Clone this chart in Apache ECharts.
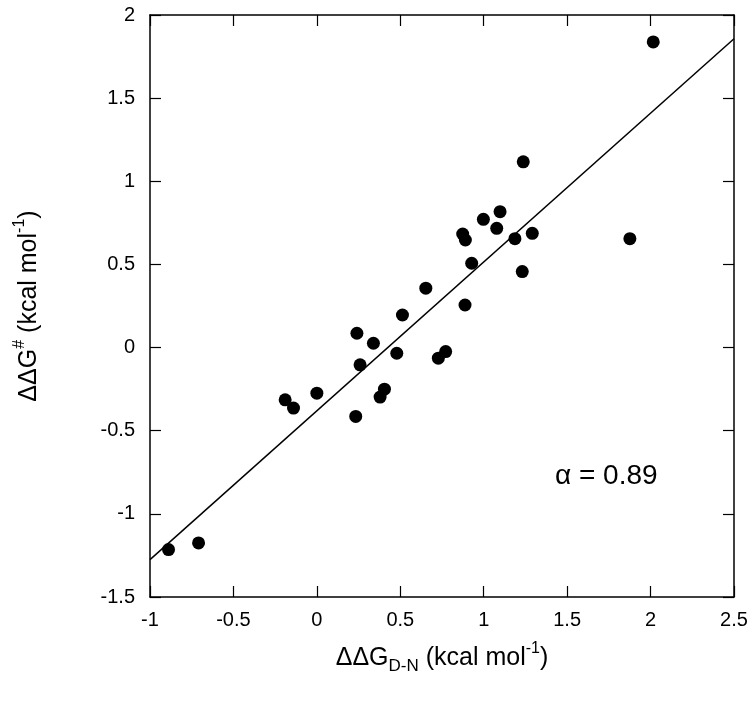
<!DOCTYPE html>
<html>
<head>
<meta charset="utf-8">
<script src="https://cdn.jsdelivr.net/npm/echarts@6/dist/echarts.min.js"></script>
<style>
html,body{margin:0;padding:0;background:#fff;}
#c{width:749px;height:707px;}
</style>
</head>
<body>
<div id="c"></div>
<script>
// Data
var ddgDN = [-0.889, -0.709, -0.190, -0.140, 0.000, 0.233, 0.240, 0.259, 0.339, 0.379, 0.405, 0.479, 0.513, 0.728, 0.772, 0.888,
             2.016, 1.237, 1.098, 0.998, 1.078, 0.874, 0.890, 1.187, 1.291, 1.876, 0.928, 1.231, 0.653];
var ddgTS = [-1.215, -1.175, -0.314, -0.364, -0.274, -0.414, 0.086, -0.104, 0.026, -0.298, -0.250, -0.034, 0.196, -0.064, -0.024, 0.256,
             1.838, 1.117, 0.817, 0.771, 0.717, 0.683, 0.647, 0.655, 0.687, 0.655, 0.507, 0.457, 0.357];
var fitSlope = 0.895;
var fitIntercept = -0.38;
var xRange = [-1, 2.5];
var yRange = [-1.5, 2];
var alphaLabel = 'α = 0.89';

var points = ddgDN.map(function (x, i) { return [x, ddgTS[i]]; });
var fitLine = xRange.map(function (x) { return [x, fitSlope * x + fitIntercept]; });

var FONT = 'Liberation Sans';
var chart = echarts.init(document.getElementById('c'), null, {renderer: 'canvas'});
var axisLineStyle = {color: '#000', width: 1.5};
var richName = {
  t: {fontSize: 25, fontFamily: FONT, color: '#000', lineHeight: 34},
  sub: {fontSize: 17, fontFamily: FONT, color: '#000', lineHeight: 34, verticalAlign: 'bottom'},
  sup: {fontSize: 16, fontFamily: FONT, color: '#000', lineHeight: 34, verticalAlign: 'top'}
};
chart.setOption({
  animation: false,
  backgroundColor: '#fff',
  grid: {left: 150, right: 15, top: 15, bottom: 110, containLabel: false, outerBoundsMode: 'none'},
  xAxis: [{
    type: 'value', min: xRange[0], max: xRange[1], interval: 0.5,
    position: 'bottom',
    axisLine: {onZero: false, lineStyle: axisLineStyle},
    axisTick: {inside: true, length: 11, lineStyle: {color: '#000', width: 1.2}},
    axisLabel: {color: '#000', fontSize: 20, fontFamily: FONT, margin: 13},
    splitLine: {show: false},
    name: '{t|ΔΔG}{sub|D-N}{t| (kcal mol}{sup|-1}{t|)}',
    nameLocation: 'middle', nameGap: 44,
    nameTextStyle: {rich: richName}
  }, {
    type: 'value', min: xRange[0], max: xRange[1], interval: 0.5,
    position: 'top',
    axisLine: {onZero: false, lineStyle: axisLineStyle},
    axisTick: {inside: true, length: 11, lineStyle: {color: '#000', width: 1.2}},
    axisLabel: {show: false},
    splitLine: {show: false}
  }],
  yAxis: [{
    type: 'value', min: yRange[0], max: yRange[1], interval: 0.5,
    position: 'left',
    axisLine: {onZero: false, lineStyle: axisLineStyle},
    axisTick: {inside: true, length: 11, lineStyle: {color: '#000', width: 1.2}},
    axisLabel: {color: '#000', fontSize: 20, fontFamily: FONT, margin: 15},
    splitLine: {show: false},
    name: '{t|ΔΔG}{sup|#}{t| (kcal mol}{sup|-1}{t|)}',
    nameLocation: 'middle', nameGap: 104,
    nameTextStyle: {rich: richName}
  }, {
    type: 'value', min: yRange[0], max: yRange[1], interval: 0.5,
    position: 'right',
    axisLine: {onZero: false, lineStyle: axisLineStyle},
    axisTick: {inside: true, length: 11, lineStyle: {color: '#000', width: 1.2}},
    axisLabel: {show: false},
    splitLine: {show: false}
  }],
  series: [{
    type: 'line',
    data: fitLine,
    xAxisIndex: 0, yAxisIndex: 0,
    showSymbol: false,
    lineStyle: {color: '#000', width: 1.5},
    z: 2
  }, {
    type: 'scatter',
    data: points,
    xAxisIndex: 0, yAxisIndex: 0,
    symbol: 'circle',
    symbolSize: 13,
    itemStyle: {color: '#000', opacity: 1},
    z: 3
  }],
  graphic: [{
    type: 'text',
    left: 555, top: 462,
    style: {text: alphaLabel, fontSize: 28, fontFamily: FONT, fill: '#000'}
  }]
});
</script>
</body>
</html>
